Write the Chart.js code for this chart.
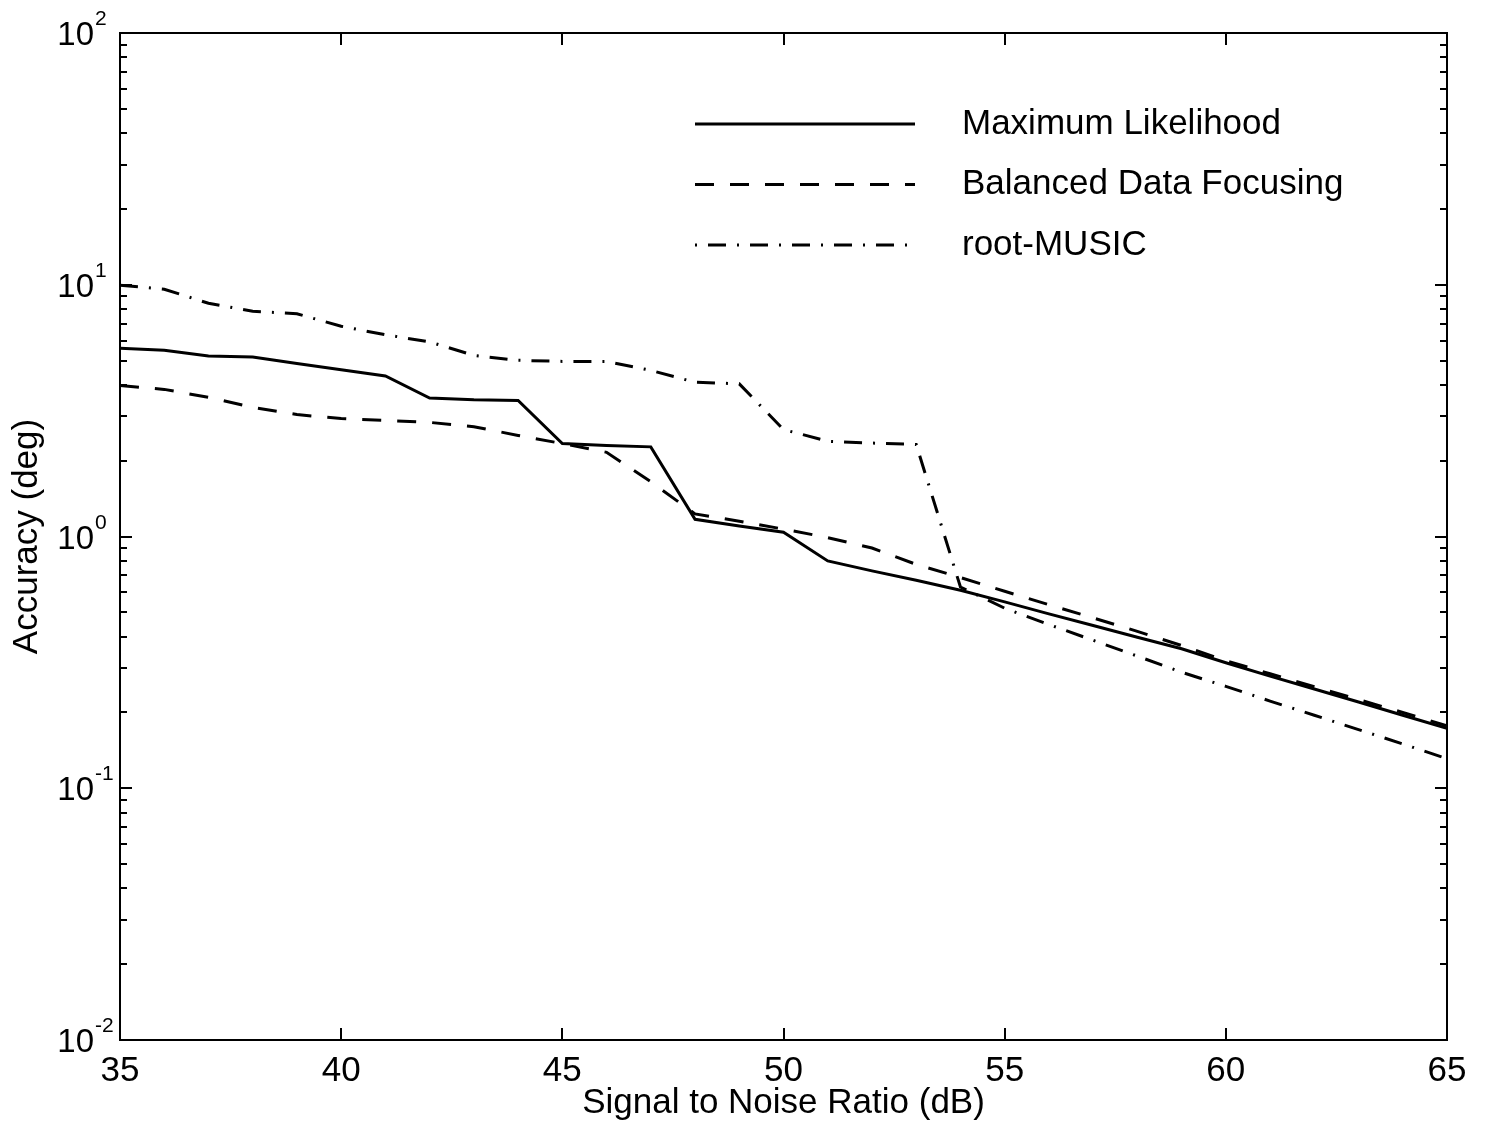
<!DOCTYPE html>
<html>
<head>
<meta charset="utf-8">
<title>Accuracy vs SNR</title>
<script src="https://cdn.jsdelivr.net/npm/chart.js@4.4.1/dist/chart.umd.min.js"></script>
<style>
  html, body { margin: 0; padding: 0; background: #fff; }
  canvas { display: block; }
</style>
</head>
<body>
<canvas id="chart" width="1487" height="1126"></canvas>
<script>
// Signal to noise ratio (dB)
const snr = [35, 36, 37, 38, 39, 40, 41, 42, 43, 44, 45, 46, 47, 48, 49, 50,
             51, 52, 53, 54, 55, 56, 57, 58, 59, 60, 61, 62, 63, 64, 65];

// Accuracy (deg) for each estimator
const maxLikelihood = [5.59, 5.49, 5.21, 5.16, 4.87, 4.60, 4.34, 3.55, 3.49, 3.47,
                       2.34, 2.30, 2.27, 1.17, 1.10, 1.04, 0.80, 0.73, 0.67, 0.612,
                       0.55, 0.493, 0.443, 0.398, 0.358, 0.315, 0.279, 0.248, 0.220, 0.195, 0.173];
const balancedFocusing = [3.98, 3.84, 3.57, 3.26, 3.05, 2.94, 2.89, 2.84, 2.73, 2.52,
                          2.34, 2.16, 1.65, 1.23, 1.15, 1.07, 0.99, 0.90, 0.775, 0.687,
                          0.606, 0.536, 0.475, 0.42, 0.369, 0.321, 0.285, 0.253, 0.225, 0.200, 0.177];
const rootMusic = [9.96, 9.6, 8.44, 7.85, 7.67, 6.84, 6.33, 5.93, 5.24, 5.01,
                   4.96, 4.96, 4.57, 4.10, 4.04, 2.66, 2.39, 2.35, 2.32, 0.63,
                   0.519, 0.447, 0.387, 0.335, 0.289, 0.254, 0.222, 0.195, 0.171, 0.150, 0.131];

const seriesNames = ['Maximum Likelihood', 'Balanced Data Focusing', 'root-MUSIC'];
const xTickValues = [35, 40, 45, 50, 55, 60, 65];
const yDecades = [-2, -1, 0, 1, 2];

const FONT = "'Liberation Sans', Arial, Helvetica, sans-serif";

function points(values) {
  return snr.map((x, i) => ({ x: x, y: values[i] }));
}

// Boxed axes with inward ticks, power-of-ten labels and an in-plot legend
const framePlugin = {
  id: 'frame',
  afterDraw(chart) {
    const ctx = chart.ctx;
    const area = chart.chartArea;
    const xs = chart.scales.x;
    const ys = chart.scales.y;
    ctx.save();
    ctx.strokeStyle = '#000';
    ctx.fillStyle = '#000';
    ctx.lineWidth = 2;
    ctx.setLineDash([]);
    ctx.lineCap = 'butt';

    // box
    ctx.strokeRect(area.left, area.top, area.right - area.left, area.bottom - area.top);

    // x ticks (bottom and top, inward)
    const majorLen = 12, minorLen = 7;
    ctx.beginPath();
    xTickValues.forEach(v => {
      const px = Math.round(xs.getPixelForValue(v));
      ctx.moveTo(px, area.bottom); ctx.lineTo(px, area.bottom - majorLen);
      ctx.moveTo(px, area.top); ctx.lineTo(px, area.top + majorLen);
    });
    // y ticks (left and right, inward), with minor ticks between decades
    yDecades.forEach((k, idx) => {
      const py = Math.round(ys.getPixelForValue(Math.pow(10, k)));
      ctx.moveTo(area.left, py); ctx.lineTo(area.left + majorLen, py);
      ctx.moveTo(area.right, py); ctx.lineTo(area.right - majorLen, py);
      if (idx < yDecades.length - 1) {
        for (let m = 2; m <= 9; m++) {
          const pm = Math.round(ys.getPixelForValue(m * Math.pow(10, k)));
          ctx.moveTo(area.left, pm); ctx.lineTo(area.left + minorLen, pm);
          ctx.moveTo(area.right, pm); ctx.lineTo(area.right - minorLen, pm);
        }
      }
    });
    ctx.stroke();

    // y tick labels as 10 with a raised exponent
    ctx.textBaseline = 'alphabetic';
    yDecades.forEach(k => {
      const py = ys.getPixelForValue(Math.pow(10, k));
      ctx.font = '33px ' + FONT;
      ctx.textAlign = 'right';
      ctx.fillText('10', 94, py + 12);
      ctx.font = '21px ' + FONT;
      ctx.textAlign = 'left';
      ctx.fillText(String(k), 95, py - 8);
    });

    // legend
    const legendX0 = area.left + 575, legendX1 = area.left + 795;
    const textX = area.left + 842;
    chart.data.datasets.forEach((ds, i) => {
      const ly = area.top + 91 + i * 60.5;
      ctx.save();
      ctx.lineWidth = ds.borderWidth;
      ctx.setLineDash(ds.borderDash || []);
      ctx.lineDashOffset = ds.legendDashOffset || 0;
      ctx.beginPath();
      ctx.moveTo(legendX0, ly);
      ctx.lineTo(legendX1, ly);
      ctx.stroke();
      ctx.restore();
      ctx.font = '35px ' + FONT;
      ctx.textAlign = 'left';
      ctx.textBaseline = 'middle';
      ctx.fillText(ds.label, textX, ly);
    });
    ctx.restore();
  }
};

const chart = new Chart(document.getElementById('chart'), {
  type: 'line',
  data: {
    datasets: [
      {
        label: seriesNames[0],
        data: points(maxLikelihood),
        borderColor: '#000',
        borderWidth: 3,
        borderDash: [],
        pointRadius: 0,
        fill: false,
        tension: 0
      },
      {
        label: seriesNames[1],
        data: points(balancedFocusing),
        borderColor: '#000',
        borderWidth: 3,
        borderDash: [19, 16],
        pointRadius: 0,
        fill: false,
        tension: 0
      },
      {
        label: seriesNames[2],
        data: points(rootMusic),
        borderColor: '#000',
        borderWidth: 3,
        borderDash: [18, 11, 2, 11],
        legendDashOffset: 29,
        pointRadius: 0,
        fill: false,
        tension: 0
      }
    ]
  },
  options: {
    responsive: false,
    animation: false,
    events: [],
    layout: { padding: { top: 33, right: 40, left: 0, bottom: 0 } },
    plugins: {
      legend: { display: false },
      tooltip: { enabled: false }
    },
    scales: {
      x: {
        type: 'linear',
        position: 'bottom',
        min: 35,
        max: 65,
        afterBuildTicks(scale) {
          scale.ticks = xTickValues.map(v => ({ value: v }));
        },
        afterFit(scale) { scale.height = 86; },
        ticks: {
          autoSkip: false,
          maxRotation: 0,
          padding: 10,
          color: '#000',
          font: { family: FONT, size: 35 }
        },
        grid: { display: false, drawTicks: false },
        border: { display: false },
        title: {
          display: true,
          text: 'Signal to Noise Ratio (dB)',
          color: '#000',
          font: { family: FONT, size: 35 },
          padding: { top: 0, bottom: 2 }
        }
      },
      y: {
        type: 'logarithmic',
        min: 0.01,
        max: 100,
        afterFit(scale) { scale.width = 120; },
        ticks: { display: false },
        grid: { display: false, drawTicks: false },
        border: { display: false },
        title: {
          display: true,
          text: 'Accuracy (deg)',
          color: '#000',
          font: { family: FONT, size: 35 },
          padding: { top: 6, bottom: 0 }
        }
      }
    }
  },
  plugins: [framePlugin]
});
</script>
</body>
</html>
